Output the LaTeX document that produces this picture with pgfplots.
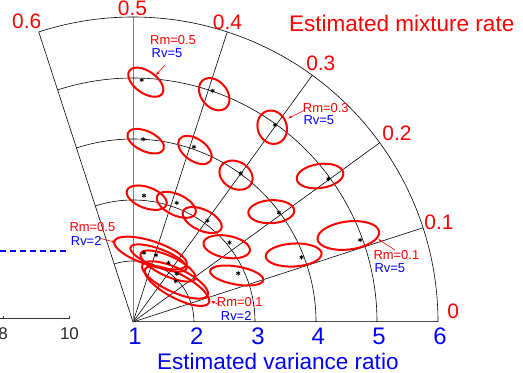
\documentclass[border=0pt]{standalone}
\usepackage{fontspec}
\setmainfont{Liberation Sans}
\usepackage{pgfplots}
\pgfplotsset{compat=1.18}
\usetikzlibrary{arrows.meta}
\definecolor{pr}{RGB}{255,0,0}
\definecolor{pb}{RGB}{0,0,255}
\begin{document}
\begin{tikzpicture}
\useasboundingbox (0,0) rectangle (523bp,373bp);
\begin{axis}[
  at={(0,0)}, anchor=south west,
  x=61bp, y=61bp,
  xmin=-2.18033, xmax=6.39344, ymin=-0.83607, ymax=5.27869,
  hide axis, clip=false,
]
% ---- remnant of neighbouring chart (left edge)
\addplot[draw=pb, line width=2bp, dash pattern=on 6bp off 4bp] coordinates {(-2.18,1.159) (-1.033,1.159)};
\addplot[draw=black!80, line width=0.8bp] coordinates {(-2.18,0.054) (-1.036,0.054)};
\addplot[draw=black!80, line width=0.8bp] coordinates {(-2.131,0.054) (-2.131,0.103)};
\addplot[draw=black!80, line width=0.8bp] coordinates {(-1.036,0.054) (-1.036,0.103)};
% ---- polar grid
\addplot[draw=black!70, line width=1bp] coordinates {(0,0) (5,0)};
\addplot[draw=black, line width=0.6bp] coordinates {(0,0) (4.7553,1.5451)};
\addplot[draw=black, line width=0.6bp] coordinates {(0,0) (4.0451,2.9389)};
\addplot[draw=black, line width=0.6bp] coordinates {(0,0) (2.9389,4.0451)};
\addplot[draw=black, line width=0.6bp] coordinates {(0,0) (1.5451,4.7553)};
\addplot[draw=black!50, line width=1bp] coordinates {(0,0) (0,5)};
\addplot[draw=black, line width=0.6bp] coordinates {(0,0) (-1.5451,4.7553)};
\draw[black, line width=0.6bp] (axis cs:1,0) arc[start angle=0, end angle=108, radius=61bp];
\draw[black, line width=0.6bp] (axis cs:2,0) arc[start angle=0, end angle=108, radius=122bp];
\draw[black, line width=0.6bp] (axis cs:3,0) arc[start angle=0, end angle=108, radius=183bp];
\draw[black, line width=0.6bp] (axis cs:4,0) arc[start angle=0, end angle=108, radius=244bp];
\draw[black, line width=0.6bp] (axis cs:5,0) arc[start angle=0, end angle=108, radius=305bp];
% ---- ellipses
\begin{scope}[pr, line width=2bp]
\draw (axis cs:0.210,3.931) ellipse[x radius=20bp, y radius=11bp, rotate=-35];
\draw (axis cs:1.331,3.734) ellipse[x radius=18bp, y radius=13bp, rotate=-50];
\draw (axis cs:2.282,3.193) ellipse[x radius=17bp, y radius=14.5bp, rotate=-70];
\draw (axis cs:3.066,2.393) ellipse[x radius=23.5bp, y radius=12bp, rotate=8];
\draw (axis cs:3.530,1.418) ellipse[x radius=31bp, y radius=14bp, rotate=7];
\draw (axis cs:0.208,2.964) ellipse[x radius=19.7bp, y radius=10bp, rotate=-25];
\draw (axis cs:1.016,2.820) ellipse[x radius=19bp, y radius=11bp, rotate=-35];
\draw (axis cs:1.689,2.407) ellipse[x radius=17.5bp, y radius=13.5bp, rotate=-30];
\draw (axis cs:2.267,1.808) ellipse[x radius=23bp, y radius=11.5bp, rotate=3];
\draw (axis cs:2.634,1.098) ellipse[x radius=28bp, y radius=11.5bp, rotate=3];
\draw (axis cs:0.225,2.038) ellipse[x radius=21bp, y radius=10.5bp, rotate=-20];
\draw (axis cs:0.710,1.921) ellipse[x radius=21bp, y radius=10.5bp, rotate=-25];
\draw (axis cs:1.134,1.672) ellipse[x radius=21bp, y radius=10.5bp, rotate=-25];
\draw (axis cs:1.536,1.234) ellipse[x radius=23.5bp, y radius=11bp, rotate=-10];
\draw (axis cs:1.700,0.762) ellipse[x radius=27bp, y radius=9bp, rotate=-10];
\draw (axis cs:0.287,1.131) ellipse[x radius=38bp, y radius=12bp, rotate=-18];
\draw (axis cs:0.418,1.049) ellipse[x radius=30bp, y radius=9bp, rotate=-21];
\draw (axis cs:0.574,0.918) ellipse[x radius=30bp, y radius=10bp, rotate=-25];
\draw (axis cs:0.689,0.689) ellipse[x radius=36bp, y radius=12bp, rotate=-25];
\draw (axis cs:0.721,0.590) ellipse[x radius=36bp, y radius=12bp, rotate=-28];
\end{scope}
% ---- estimated means (variance ratio rv, mixture rate rm)
\addplot[only marks, mark=asterisk, mark size=2.2bp, color=black, mark options={line width=0.8bp}]
  table[x expr={(\thisrow{rv}-1)*cos(180*\thisrow{rm})}, y expr={(\thisrow{rv}-1)*sin(180*\thisrow{rm})}] {
rv rm
4.97 0.4886
5.01 0.3943
4.98 0.3012
4.97 0.2012
4.96 0.1103
4.00 0.4821
4.04 0.3934
4.01 0.3004
3.99 0.2046
3.96 0.1166
3.08 0.4723
3.08 0.3882
3.06 0.2986
3.05 0.2193
2.90 0.1379
2.15 0.4499
2.16 0.3943
2.13 0.3283
2.07 0.2659
1.97 0.2424
};
% ---- annotation arrows
\begin{scope}[pr, line width=0.6bp, -{Stealth[length=4bp,width=3bp]}]
\draw (axis cs:0.525,4.213) -- (axis cs:0.377,4.049);
\draw (axis cs:2.820,3.475) -- (axis cs:2.546,3.339);
\draw (axis cs:4.295,1.180) -- (axis cs:4.021,1.356);
\draw (axis cs:-0.552,1.372) -- (axis cs:-0.279,1.307);
\draw (axis cs:1.459,0.262) -- (axis cs:1.279,0.344);
\end{scope}
\end{axis}
% ---- texts
\begin{scope}[every node/.style={inner sep=0pt}]
\node[pr, font=\fontsize{22.6pt}{27pt}\selectfont] at (401.7bp,350bp) {Estimated mixture rate};
\node[pb, font=\fontsize{22.6pt}{27pt}\selectfont] at (277.8bp,11.5bp) {Estimated variance ratio};
\foreach \lab/\xx in {1/135,2/196.7,3/258,4/318.3,5/379,6/440}
  \node[pb, font=\fontsize{24pt}{28pt}\selectfont] at (\xx bp,37bp) {\lab};
\node[pr, font=\fontsize{21pt}{25pt}\selectfont] at (26.7bp,351.3bp) {0.6};
\node[pr, font=\fontsize{21pt}{25pt}\selectfont] at (132.5bp,364.6bp) {0.5};
\node[pr, font=\fontsize{21pt}{25pt}\selectfont] at (227.5bp,351bp) {0.4};
\node[pr, font=\fontsize{21pt}{25pt}\selectfont] at (320.8bp,309.7bp) {0.3};
\node[pr, font=\fontsize{21pt}{25pt}\selectfont] at (397bp,239.7bp) {0.2};
\node[pr, font=\fontsize{21pt}{25pt}\selectfont] at (439bp,150.5bp) {0.1};
\node[pr, font=\fontsize{21pt}{25pt}\selectfont] at (453.3bp,61.7bp) {0};
\node[black!85, font=\fontsize{17pt}{20pt}\selectfont] at (3bp,39bp) {8};
\node[black!85, font=\fontsize{17pt}{20pt}\selectfont] at (69.5bp,39bp) {10};
\begin{scope}[every node/.append style={anchor=west, font=\fontsize{13pt}{15pt}\selectfont}]
\node[pr] at (150bp,332.5bp) {Rm=0.5};
\node[pb] at (151.5bp,320bp) {Rv=5};
\node[pr] at (302.7bp,265bp) {Rm=0.3};
\node[pb] at (303.3bp,252.5bp) {Rv=5};
\node[pr] at (373.3bp,117.5bp) {Rm=0.1};
\node[pb] at (374.3bp,105bp) {Rv=5};
\node[pr] at (69.3bp,145.5bp) {Rm=0.5};
\node[pb] at (70.7bp,132bp) {Rv=2};
\node[pr] at (216.7bp,70.5bp) {Rm=0.1};
\node[pb] at (220.7bp,57bp) {Rv=2};
\end{scope}
\end{scope}
\end{tikzpicture}
\end{document}
